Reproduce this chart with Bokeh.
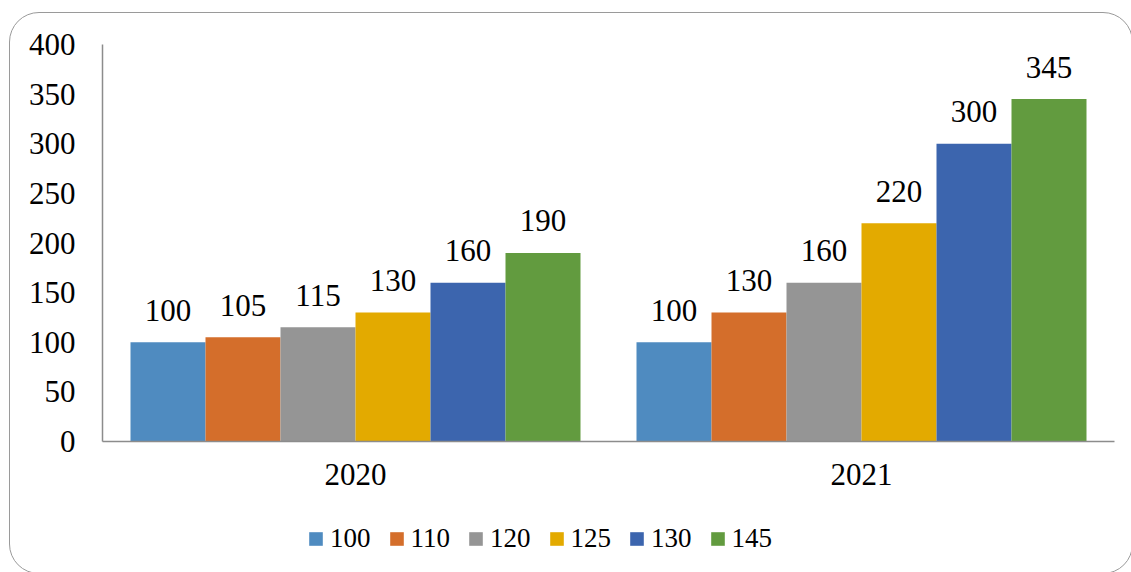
from bokeh.plotting import figure
from bokeh.layouts import column
from bokeh.models import ColumnDataSource, FactorRange, Legend, LegendItem
from bokeh.transform import dodge
from bokeh.core.properties import value
from bokeh.embed import file_html
from bokeh.resources import INLINE

years = ["2020", "2021"]
series = ["100", "110", "120", "125", "130", "145"]
values_2020 = [100, 105, 115, 130, 160, 190]
values_2021 = [100, 130, 160, 220, 300, 345]
colors = ["#4F8BC0", "#D46E2B", "#959595", "#E3AA00", "#3C65AE", "#629B3F"]
y_ticks = [0, 50, 100, 150, 200, 250, 300, 350, 400]

FONT = "Liberation Serif"
W = 1122
H_MAIN = 490
H_LEG = 70

main = figure(
    x_range=FactorRange(*years, range_padding=0),
    y_range=(0, 400),
    width=W, height=H_MAIN,
    output_backend="svg", toolbar_location=None,
    min_border_left=92, min_border_right=18,
    min_border_top=31, min_border_bottom=62,
)
main.outline_line_color = None
main.border_fill_alpha = 0
main.background_fill_alpha = 0
main.xgrid.grid_line_color = None
main.ygrid.grid_line_color = None

bar_w = 75 / 506
for i, name in enumerate(series):
    off = (i - 2.5) * bar_w
    tops = [values_2020[i], values_2021[i]]
    src = ColumnDataSource(dict(x=years, top=tops, label=[str(t) for t in tops]))
    main.vbar(x=dodge("x", off, range=main.x_range), top="top", width=bar_w,
              color=colors[i], line_color=None, source=src)
    main.text(x=dodge("x", off, range=main.x_range), y="top", text="label", source=src,
              text_align="center", text_baseline="alphabetic", y_offset=-32,
              text_font=value(FONT), text_font_size="31px", text_color="black")

for ax in (main.xaxis[0], main.yaxis[0]):
    ax.axis_line_color = "#8c8c8c"
    ax.axis_line_width = 1.5
    ax.major_tick_line_color = None
    ax.minor_tick_line_color = None
    ax.major_tick_out = 0
    ax.major_tick_in = 0
    ax.major_label_text_font = FONT
    ax.major_label_text_font_size = "31px"
    ax.major_label_text_color = "black"

main.yaxis[0].ticker = y_ticks
main.yaxis[0].major_label_standoff = 27
main.xaxis[0].major_label_standoff = 22

# legend strip below the chart (swatch renderers are zero-height, so invisible)
leg = figure(width=W, height=H_LEG, x_range=(0, 1), y_range=(0, 1),
             x_axis_location=None, y_axis_location=None,
             output_backend="svg", toolbar_location=None,
             min_border=0, min_border_left=0, min_border_right=0,
             min_border_top=0, min_border_bottom=0)
leg.grid.visible = False
leg.outline_line_color = None
leg.border_fill_alpha = 0
leg.background_fill_alpha = 0
items = []
for i, name in enumerate(series):
    r = leg.vbar(x=[0.5], top=[0], bottom=[0], width=0.01,
                 fill_color=colors[i], line_color=None)
    items.append(LegendItem(label=name, renderers=[r]))

legend = Legend(items=items, orientation="horizontal", location=(205, 19),
                glyph_width=17, glyph_height=17, label_standoff=6, spacing=17,
                padding=0, margin=0, border_line_color=None,
                background_fill_alpha=0,
                label_text_font=FONT, label_text_font_size="27px",
                label_text_color="black")
leg.add_layout(legend, "center")

p = column(main, leg, spacing=0)
p.margin = (12, 0, 0, 9)
p.styles = {"border": "1.5px solid #9a9a9a", "border-radius": "30px",
            "box-sizing": "border-box"}

open("out.html", "w").write(file_html(p, INLINE))
